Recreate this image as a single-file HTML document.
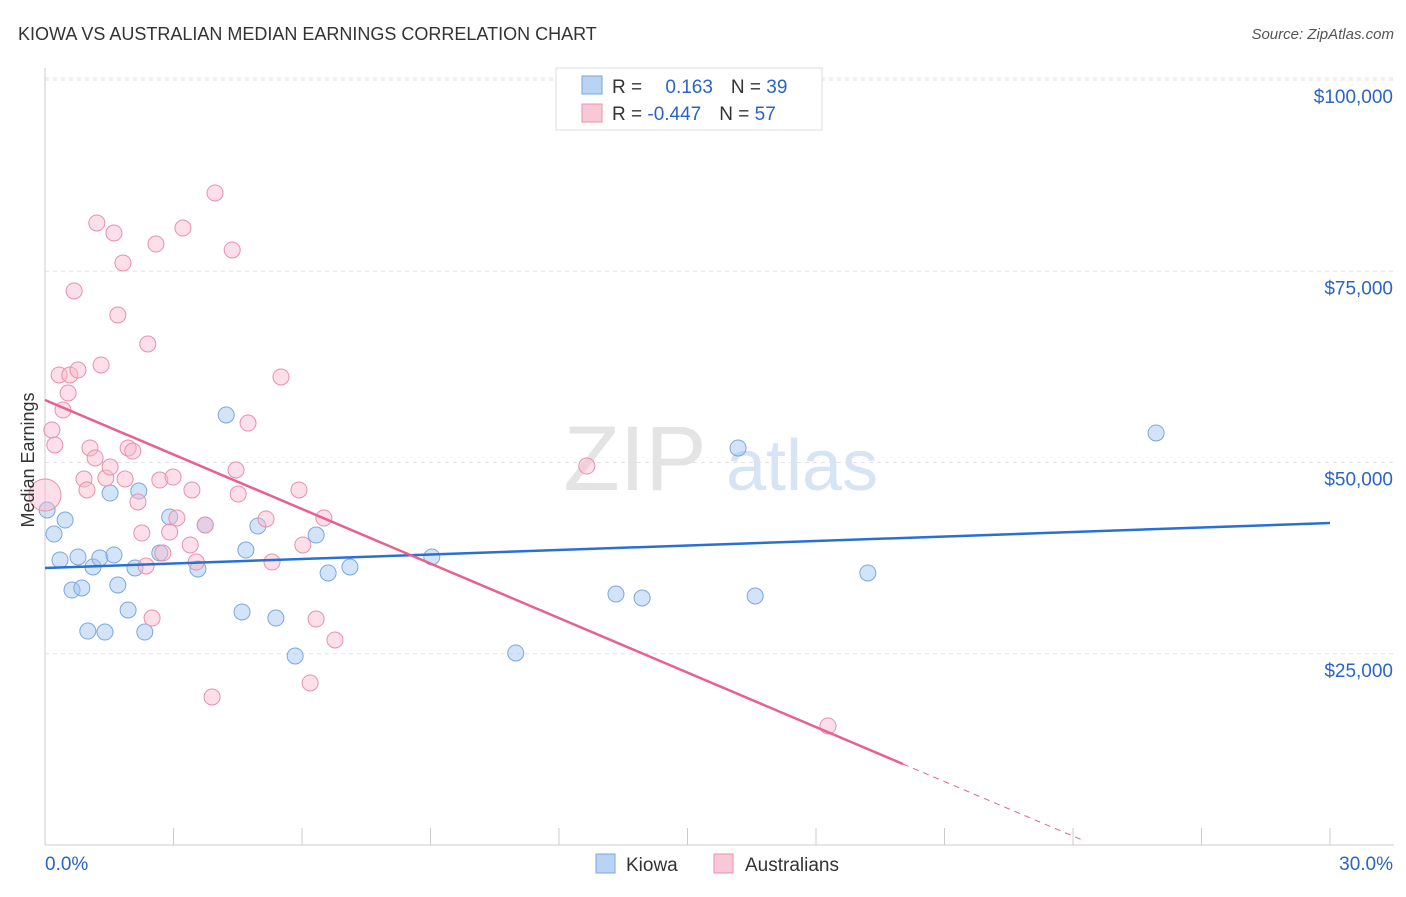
<!DOCTYPE html>
<html><head><meta charset="utf-8"><style>
body{margin:0;background:#fff;font-family:"Liberation Sans",sans-serif}
svg text{font-family:"Liberation Sans",sans-serif}
</style></head><body>
<svg id="c" width="1406" height="892">
<text x="18" y="40" font-size="18" fill="#333">KIOWA VS AUSTRALIAN MEDIAN EARNINGS CORRELATION CHART</text>
<text x="1394" y="39" font-size="15" fill="#555" font-style="italic" text-anchor="end">Source: ZipAtlas.com</text>
<g><text x="635" y="490" font-size="92" fill="#e4e4e4" font-family="Liberation Serif" text-anchor="middle">ZIP</text><text x="802" y="490" font-size="72" fill="#d6e4f4" text-anchor="middle">atlas</text></g>
<g id="grid"></g><g id="axes"></g><g id="pts"></g><g id="lines"></g>
<text x="34" y="460" font-size="18" fill="#333" text-anchor="middle" transform="rotate(-90 34 460)">Median Earnings</text>
<g>
<rect x="556" y="68" width="266" height="62" fill="#fff" stroke="#ddd"/>
<rect x="582" y="76" width="20" height="18" fill="#b8d3f4" stroke="#7aa7e0"/>
<rect x="582" y="104" width="20" height="18" fill="#f9c8d6" stroke="#e890aa"/>
<text x="612" y="93" font-size="19" fill="#333">R = <tspan fill="#2a64c6" dx="18">0.163</tspan><tspan dx="18" fill="#333">N = </tspan><tspan fill="#2a64c6">39</tspan></text>
<text x="612" y="120" font-size="19" fill="#333">R = <tspan fill="#2a64c6">-0.447</tspan><tspan dx="18" fill="#333">N = </tspan><tspan fill="#2a64c6">57</tspan></text>
</g>
<g>
<rect x="596" y="854" width="19" height="19" fill="#b8d3f4" stroke="#7aa7e0"/>
<text x="626" y="871" font-size="19" fill="#333">Kiowa</text>
<rect x="714" y="854" width="19" height="19" fill="#f9c8d6" stroke="#e890aa"/>
<text x="745" y="871" font-size="19" fill="#333">Australians</text>
</g>
</svg>
<script>
const yTicks=[25000,50000,75000,100000];
const yTickLabels=["$25,000","$50,000","$75,000","$100,000"];
const xTickLabels=["0.0%","30.0%"];
const kiowaX=[0.05,0.21,0.47,0.35,0.63,0.77,0.86,1.00,1.12,1.28,1.40,1.52,1.61,1.70,1.94,2.10,2.19,2.33,2.68,2.91,3.57,3.74,4.23,4.60,4.69,4.97,5.39,5.84,6.33,6.61,7.12,9.03,10.99,13.33,13.94,16.18,16.58,19.21,25.94];
const kiowaY=[43790,40650,42480,37260,33330,37650,33600,27970,36340,37520,27840,46010,37910,33990,30720,36210,46270,27840,38170,42880,36080,41830,56210,30460,38560,41700,29670,24710,40520,35560,36340,37650,25100,32810,32290,51900,32550,35560,53860];
const ausX=[0.00,0.16,0.23,0.33,0.42,0.54,0.58,0.68,0.77,0.91,0.98,1.05,1.17,1.21,1.31,1.42,1.52,1.61,1.70,1.82,1.87,1.94,2.05,2.17,2.26,2.36,2.40,2.50,2.59,2.68,2.75,2.91,2.99,3.08,3.22,3.39,3.43,3.53,3.74,3.90,3.97,4.37,4.46,4.51,4.74,5.16,5.30,5.51,5.93,6.02,6.19,6.33,6.51,6.77,12.65,18.28];
const ausY=[45750,54250,52290,61440,56860,59090,61440,72420,62090,47840,46410,51900,50590,81310,62750,47970,49410,80000,69280,76080,47840,51900,51500,44840,40780,36470,65490,29670,78560,47710,38170,40910,48100,42750,80650,39220,46410,36990,41830,19350,85230,77780,49020,45880,55160,42620,36990,61180,46410,39220,21180,29540,42750,26800,49540,15560];
const kiowaTrend=[36210,42090];
const ausTrend=[58170,10590,600];
const ausTrendX=[0,20.03,24.24];
const sx=v=>45+v/30*1285, sy=v=>845-v*0.00765;
const NS="http://www.w3.org/2000/svg";
function mk(p,t,a){const e=document.createElementNS(NS,t);for(const k in a)e.setAttribute(k,a[k]);document.getElementById(p).appendChild(e);return e;}
yTicks.forEach((t,i)=>{
 let g=mk('grid','line',{x1:45,x2:1394,y1:sy(t),y2:sy(t),stroke:'#e2e2e2','stroke-dasharray':'4 4'});
 
 
 let l=mk('axes','text',{x:1393,y:sy(t)+23,'font-size':19,fill:'#2a64c6','text-anchor':'end'});l.textContent=yTickLabels[i];
 
 
});
let tg=mk('grid','line',{x1:45,x2:1394,y1:78,y2:78,stroke:'#e2e2e2','stroke-dasharray':'4 4'});


let ax=mk('axes','line',{x1:45,x2:45,y1:68,y2:845,stroke:'#ccc'});


let bx=mk('axes','line',{x1:45,x2:1394,y1:845,y2:845,stroke:'#ccc'});


for(let i=1;i<=10;i++){let t=mk('axes','line',{x1:sx(i*3),x2:sx(i*3),y1:828,y2:845,stroke:'#ccc'});
 
 }
[[0,'start',45],[30,'end',1393]].forEach((d,i)=>{let t=mk('axes','text',{x:d[2],y:870,'font-size':19,fill:'#2a64c6','text-anchor':d[1]});t.textContent=xTickLabels[i];
 
 });
kiowaX.forEach((x,i)=>{let c=mk('pts','circle',{cx:sx(x),cy:sy(kiowaY[i]),r:8,fill:'rgba(160,195,240,0.45)',stroke:'#7aa7e0','stroke-width':1});
 
 });
ausX.forEach((x,i)=>{let c=mk('pts','circle',{cx:sx(x),cy:sy(ausY[i]),r:i==0?16:8,fill:'rgba(248,185,205,0.45)',stroke:'#e890aa','stroke-width':1});
 
 });
let kl=mk('lines','line',{x1:sx(0),y1:sy(kiowaTrend[0]),x2:sx(30),y2:sy(kiowaTrend[1]),stroke:'#2a6fd4','stroke-width':2.5});


let al=mk('lines','line',{x1:sx(ausTrendX[0]),y1:sy(ausTrend[0]),x2:sx(ausTrendX[1]),y2:sy(ausTrend[1]),stroke:'#e8608c','stroke-width':2.5});


let ad=mk('lines','line',{x1:sx(ausTrendX[1]),y1:sy(ausTrend[1]),x2:sx(ausTrendX[2]),y2:sy(ausTrend[2]),stroke:'#e8608c','stroke-width':1,'stroke-dasharray':'6 5'});


</script>
</body></html>
